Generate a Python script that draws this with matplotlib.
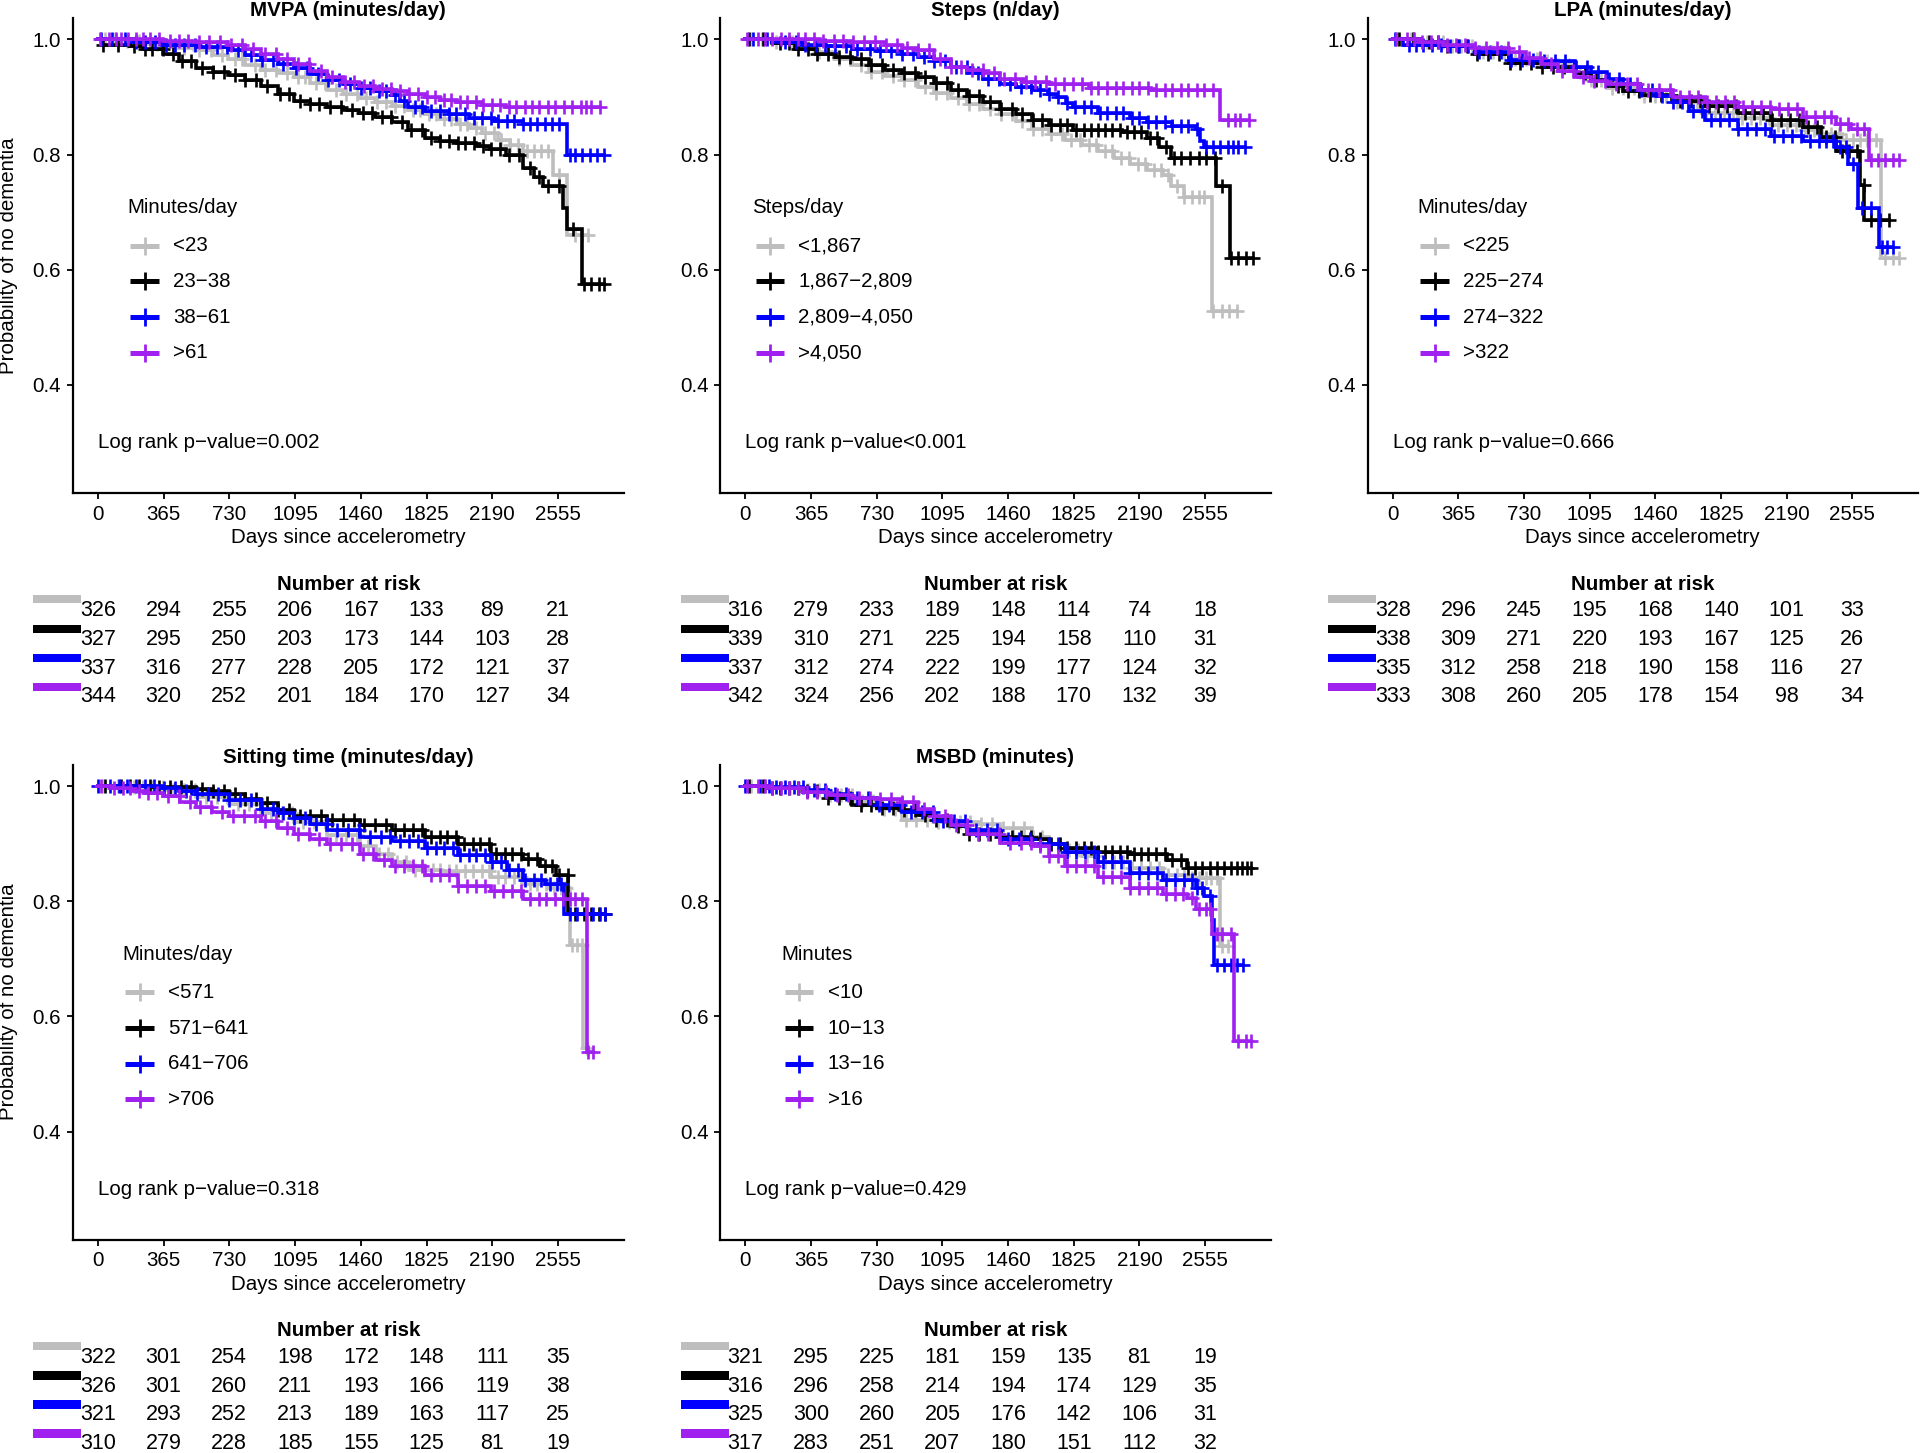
import numpy as np
import matplotlib
matplotlib.use("Agg")
import matplotlib.pyplot as plt
from matplotlib.patches import Rectangle
from matplotlib.transforms import blended_transform_factory

plt.rcParams['font.family'] = ['Liberation Sans', 'DejaVu Sans']

# ---------------- data ----------------
group_colors = ['#BEBEBE', '#000000', '#0000FF', '#A020F0']
xtick_days = [0, 365, 730, 1095, 1460, 1825, 2190, 2555]
ytick_vals = [0.4, 0.6, 0.8, 1.0]

titles = ['MVPA (minutes/day)', 'Steps (n/day)', 'LPA (minutes/day)',
          'Sitting time (minutes/day)', 'MSBD (minutes)']
legend_titles = ['Minutes/day', 'Steps/day', 'Minutes/day', 'Minutes/day', 'Minutes']
group_labels = [
    ['<23', '23\u221238', '38\u221261', '>61'],
    ['<1,867', '1,867\u22122,809', '2,809\u22124,050', '>4,050'],
    ['<225', '225\u2212274', '274\u2212322', '>322'],
    ['<571', '571\u2212641', '641\u2212706', '>706'],
    ['<10', '10\u221213', '13\u221216', '>16'],
]
pvalues = ['Log rank p\u2212value=0.002', 'Log rank p\u2212value<0.001',
           'Log rank p\u2212value=0.666', 'Log rank p\u2212value=0.318',
           'Log rank p\u2212value=0.429']

# ---- MVPA ----
mvpa_t = [
    [0, 120, 250, 363, 450, 544, 640, 725, 815, 907, 1000, 1088, 1180, 1270, 1360, 1451, 1540, 1632, 1720, 1814, 1900, 1995, 2063, 2131, 2222, 2290, 2358, 2528, 2607],
    [0, 23, 180, 249, 363, 450, 544, 640, 725, 815, 907, 1000, 1088, 1180, 1270, 1360, 1451, 1540, 1632, 1720, 1814, 1900, 1995, 2100, 2176, 2267, 2358, 2420, 2471, 2580, 2605, 2686],
    [0, 200, 363, 544, 725, 815, 907, 1000, 1088, 1180, 1270, 1360, 1451, 1540, 1632, 1680, 1723, 1814, 1950, 2063, 2200, 2358, 2607],
    [0, 363, 544, 725, 815, 907, 1000, 1088, 1180, 1270, 1360, 1451, 1540, 1632, 1720, 1814, 1900, 1995, 2130, 2267],
]
mvpa_s = [
    [1.0, 0.997, 0.993, 0.988, 0.985, 0.981, 0.973, 0.966, 0.956, 0.947, 0.941, 0.935, 0.924, 0.913, 0.905, 0.898, 0.891, 0.885, 0.877, 0.870, 0.862, 0.854, 0.846, 0.838, 0.826, 0.817, 0.807, 0.764, 0.661],
    [1.0, 0.991, 0.988, 0.984, 0.975, 0.962, 0.950, 0.944, 0.938, 0.929, 0.919, 0.906, 0.894, 0.888, 0.882, 0.877, 0.873, 0.866, 0.857, 0.843, 0.829, 0.824, 0.820, 0.815, 0.810, 0.800, 0.776, 0.762, 0.745, 0.708, 0.671, 0.575],
    [1.0, 0.995, 0.991, 0.987, 0.981, 0.973, 0.965, 0.958, 0.950, 0.940, 0.929, 0.922, 0.916, 0.910, 0.904, 0.893, 0.882, 0.876, 0.870, 0.863, 0.858, 0.854, 0.800],
    [1.0, 0.998, 0.995, 0.991, 0.984, 0.975, 0.966, 0.957, 0.946, 0.935, 0.927, 0.919, 0.914, 0.910, 0.905, 0.900, 0.895, 0.891, 0.886, 0.882],
]
mvpa_cens = [
    [40, 95, 160, 230, 290, 330, 420, 480, 560, 630, 690, 760, 800, 870, 930, 990, 1050, 1110, 1150, 1210, 1260, 1320, 1380, 1440, 1490, 1550, 1600, 1650, 1700, 1750, 1790, 1840, 1880, 1920, 1960, 2010, 2050, 2100, 2150, 2200, 2240, 2290, 2330, 2380, 2420, 2460, 2500, 2560, 2650, 2690, 2720],
    [30, 110, 200, 260, 300, 360, 420, 470, 520, 580, 640, 700, 760, 820, 880, 940, 1010, 1060, 1120, 1180, 1230, 1290, 1350, 1410, 1470, 1520, 1580, 1630, 1690, 1740, 1800, 1850, 1900, 1950, 2000, 2040, 2090, 2140, 2180, 2230, 2280, 2340, 2400, 2450, 2500, 2560, 2640, 2700, 2740, 2780, 2811],
    [20, 80, 150, 210, 260, 320, 380, 430, 480, 540, 600, 660, 720, 780, 850, 910, 970, 1030, 1100, 1160, 1220, 1280, 1340, 1400, 1460, 1510, 1560, 1600, 1650, 1700, 1760, 1800, 1850, 1900, 1950, 1990, 2040, 2090, 2130, 2180, 2220, 2270, 2310, 2360, 2400, 2440, 2480, 2520, 2560, 2620, 2650, 2690, 2730, 2770, 2811],
    [15, 60, 100, 130, 170, 210, 250, 290, 340, 400, 450, 500, 560, 620, 680, 740, 800, 860, 930, 990, 1050, 1110, 1170, 1240, 1300, 1370, 1420, 1480, 1530, 1580, 1630, 1680, 1730, 1780, 1830, 1870, 1920, 1960, 2010, 2050, 2100, 2140, 2190, 2230, 2280, 2320, 2370, 2410, 2450, 2500, 2540, 2590, 2630, 2680, 2710, 2740, 2788],
]
mvpa_risk = [[326, 294, 255, 206, 167, 133, 89, 21],
             [327, 295, 250, 203, 173, 144, 103, 28],
             [337, 316, 277, 228, 205, 172, 121, 37],
             [344, 320, 252, 201, 184, 170, 127, 34]]

# ---- Steps ----
steps_t = [
    [0, 150, 277, 400, 504, 595, 686, 777, 868, 958, 1049, 1140, 1231, 1322, 1413, 1503, 1594, 1685, 1776, 1870, 1958, 2050, 2139, 2230, 2321, 2366, 2435, 2594],
    [0, 150, 277, 391, 504, 595, 686, 777, 868, 958, 1049, 1140, 1231, 1322, 1413, 1503, 1594, 1685, 1821, 2094, 2230, 2300, 2366, 2616, 2696],
    [0, 150, 322, 450, 595, 730, 868, 958, 1049, 1140, 1231, 1322, 1413, 1503, 1594, 1680, 1730, 1780, 1821, 1958, 2139, 2230, 2370, 2503, 2525, 2548],
    [0, 413, 595, 777, 870, 958, 1049, 1140, 1231, 1322, 1413, 1550, 1685, 1912, 2253, 2639],
]
steps_s = [
    [1.0, 0.995, 0.988, 0.978, 0.966, 0.955, 0.944, 0.937, 0.929, 0.918, 0.907, 0.898, 0.888, 0.879, 0.870, 0.858, 0.845, 0.836, 0.826, 0.817, 0.807, 0.795, 0.783, 0.774, 0.764, 0.745, 0.727, 0.528],
    [1.0, 0.994, 0.984, 0.975, 0.970, 0.966, 0.956, 0.947, 0.941, 0.935, 0.924, 0.913, 0.902, 0.891, 0.880, 0.870, 0.860, 0.851, 0.842, 0.839, 0.829, 0.814, 0.795, 0.745, 0.621],
    [1.0, 0.996, 0.991, 0.988, 0.984, 0.980, 0.975, 0.970, 0.963, 0.952, 0.941, 0.931, 0.922, 0.917, 0.913, 0.906, 0.900, 0.890, 0.882, 0.873, 0.863, 0.857, 0.850, 0.845, 0.823, 0.814],
    [1.0, 0.998, 0.996, 0.991, 0.986, 0.981, 0.966, 0.953, 0.947, 0.941, 0.932, 0.927, 0.922, 0.916, 0.913, 0.860],
]
steps_cens = [
    [30, 90, 170, 260, 350, 410, 460, 520, 580, 640, 700, 760, 820, 880, 940, 1000, 1060, 1120, 1180, 1240, 1300, 1360, 1420, 1480, 1540, 1600, 1650, 1700, 1760, 1810, 1860, 1910, 1950, 2000, 2040, 2090, 2130, 2180, 2220, 2270, 2310, 2350, 2400, 2440, 2480, 2520, 2550, 2600, 2650, 2690, 2730],
    [20, 100, 190, 240, 290, 350, 400, 460, 520, 580, 640, 700, 760, 820, 880, 940, 1000, 1060, 1120, 1180, 1240, 1300, 1360, 1420, 1480, 1540, 1600, 1650, 1700, 1750, 1790, 1840, 1880, 1920, 1960, 2000, 2040, 2080, 2120, 2160, 2200, 2250, 2290, 2340, 2380, 2420, 2470, 2520, 2560, 2610, 2650, 2700, 2740, 2780, 2821],
    [40, 120, 220, 280, 330, 390, 440, 500, 560, 620, 690, 750, 810, 870, 930, 990, 1050, 1110, 1170, 1230, 1290, 1350, 1410, 1470, 1530, 1590, 1640, 1690, 1740, 1790, 1830, 1880, 1920, 1970, 2010, 2060, 2100, 2150, 2190, 2240, 2280, 2330, 2370, 2420, 2460, 2510, 2560, 2600, 2640, 2680, 2710, 2740, 2775],
    [10, 70, 110, 150, 200, 240, 290, 330, 380, 430, 490, 540, 600, 660, 720, 780, 840, 900, 960, 1020, 1080, 1140, 1200, 1260, 1320, 1380, 1440, 1500, 1560, 1610, 1670, 1720, 1770, 1820, 1870, 1920, 1960, 2010, 2060, 2100, 2150, 2190, 2240, 2280, 2330, 2370, 2420, 2460, 2510, 2550, 2600, 2680, 2720, 2750, 2798],
]
steps_risk = [[316, 279, 233, 189, 148, 114, 74, 18],
              [339, 310, 271, 225, 194, 158, 110, 31],
              [337, 312, 274, 222, 199, 177, 124, 32],
              [342, 324, 256, 202, 188, 170, 132, 39]]

# ---- LPA ----
lpa_t = [
    [0, 150, 284, 460, 647, 829, 920, 1011, 1100, 1192, 1374, 1556, 1737, 1919, 2101, 2283, 2373, 2500, 2714],
    [0, 150, 284, 460, 647, 829, 1011, 1100, 1192, 1280, 1374, 1556, 1737, 1919, 2101, 2283, 2380, 2464, 2601, 2623],
    [0, 57, 284, 460, 647, 829, 1011, 1100, 1192, 1280, 1374, 1465, 1556, 1650, 1737, 1919, 2101, 2283, 2464, 2532, 2589, 2703],
    [0, 150, 284, 460, 647, 740, 829, 920, 1011, 1100, 1192, 1374, 1556, 1737, 1919, 2101, 2283, 2464, 2550, 2646],
]
lpa_s = [
    [1.0, 0.995, 0.988, 0.978, 0.966, 0.963, 0.955, 0.944, 0.930, 0.916, 0.901, 0.891, 0.873, 0.863, 0.851, 0.842, 0.835, 0.826, 0.621],
    [1.0, 0.995, 0.988, 0.975, 0.960, 0.953, 0.941, 0.930, 0.919, 0.911, 0.904, 0.894, 0.885, 0.873, 0.860, 0.848, 0.830, 0.807, 0.748, 0.686],
    [1.0, 0.991, 0.988, 0.978, 0.965, 0.962, 0.953, 0.943, 0.932, 0.922, 0.913, 0.902, 0.891, 0.875, 0.860, 0.845, 0.832, 0.823, 0.814, 0.783, 0.708, 0.640],
    [1.0, 0.996, 0.991, 0.985, 0.978, 0.967, 0.957, 0.946, 0.935, 0.928, 0.922, 0.913, 0.900, 0.891, 0.882, 0.879, 0.866, 0.854, 0.845, 0.790],
]
lpa_cens = [
    [25, 100, 190, 280, 330, 380, 440, 500, 560, 620, 680, 740, 800, 860, 920, 980, 1040, 1100, 1160, 1220, 1280, 1340, 1400, 1460, 1520, 1580, 1640, 1690, 1740, 1790, 1840, 1890, 1940, 1990, 2040, 2090, 2140, 2190, 2240, 2290, 2340, 2390, 2440, 2480, 2520, 2560, 2600, 2640, 2690, 2740, 2780, 2816],
    [35, 110, 200, 250, 300, 360, 410, 470, 530, 590, 650, 710, 770, 830, 890, 950, 1010, 1070, 1130, 1190, 1250, 1310, 1370, 1430, 1490, 1550, 1600, 1660, 1710, 1760, 1810, 1860, 1910, 1960, 2010, 2060, 2110, 2160, 2210, 2260, 2310, 2360, 2410, 2460, 2500, 2540, 2580, 2620, 2660, 2710, 2760],
    [15, 90, 130, 170, 220, 270, 320, 370, 420, 480, 540, 600, 660, 720, 780, 840, 900, 960, 1020, 1080, 1140, 1200, 1260, 1320, 1380, 1440, 1500, 1560, 1610, 1670, 1720, 1770, 1820, 1870, 1920, 1970, 2020, 2070, 2120, 2170, 2220, 2270, 2320, 2370, 2410, 2450, 2490, 2520, 2560, 2610, 2660, 2720, 2750, 2782],
    [20, 80, 120, 160, 210, 250, 300, 350, 400, 460, 520, 580, 640, 700, 760, 820, 880, 940, 1000, 1060, 1120, 1180, 1240, 1300, 1360, 1420, 1480, 1540, 1600, 1650, 1700, 1750, 1800, 1850, 1900, 1950, 2000, 2050, 2100, 2150, 2200, 2250, 2300, 2350, 2400, 2440, 2490, 2530, 2580, 2620, 2660, 2700, 2740, 2780, 2816],
]
lpa_risk = [[328, 296, 245, 195, 168, 140, 101, 33],
            [338, 309, 271, 220, 193, 167, 125, 26],
            [335, 312, 258, 218, 190, 158, 116, 27],
            [333, 308, 260, 205, 178, 154, 98, 34]]

# ---- Sitting time ----
sit_t = [
    [0, 180, 363, 545, 727, 908, 1090, 1272, 1454, 1545, 1635, 1726, 1908, 2180, 2362, 2500, 2623, 2691],
    [0, 300, 545, 640, 727, 820, 908, 1000, 1090, 1272, 1454, 1635, 1817, 1999, 2180, 2362, 2453, 2544, 2612],
    [0, 363, 450, 545, 727, 908, 1000, 1090, 1180, 1272, 1454, 1635, 1817, 1999, 2180, 2271, 2362, 2480, 2589],
    [0, 90, 182, 270, 363, 455, 545, 636, 727, 908, 1000, 1090, 1180, 1272, 1454, 1545, 1635, 1817, 1999, 2180, 2362, 2714],
]
sit_s = [
    [1.0, 0.998, 0.994, 0.982, 0.969, 0.953, 0.938, 0.916, 0.896, 0.882, 0.868, 0.855, 0.852, 0.843, 0.830, 0.824, 0.725, 0.545],
    [1.0, 0.998, 0.995, 0.991, 0.986, 0.978, 0.970, 0.958, 0.948, 0.942, 0.933, 0.924, 0.911, 0.899, 0.883, 0.874, 0.861, 0.846, 0.778],
    [1.0, 0.996, 0.991, 0.986, 0.976, 0.961, 0.953, 0.945, 0.935, 0.924, 0.911, 0.905, 0.893, 0.880, 0.868, 0.855, 0.837, 0.830, 0.778],
    [1.0, 0.996, 0.992, 0.988, 0.983, 0.973, 0.964, 0.956, 0.948, 0.939, 0.928, 0.917, 0.908, 0.899, 0.883, 0.872, 0.861, 0.846, 0.827, 0.818, 0.804, 0.538],
]
sit_cens = [
    [30, 110, 200, 250, 300, 360, 420, 480, 540, 600, 660, 720, 780, 840, 900, 960, 1020, 1080, 1140, 1200, 1260, 1320, 1380, 1440, 1500, 1560, 1610, 1660, 1710, 1760, 1810, 1860, 1900, 1950, 1990, 2040, 2080, 2130, 2170, 2220, 2260, 2310, 2350, 2400, 2440, 2490, 2530, 2570, 2600, 2630, 2660, 2690, 2714],
    [40, 130, 180, 230, 290, 340, 400, 460, 520, 580, 640, 700, 760, 820, 880, 940, 1000, 1060, 1120, 1180, 1240, 1300, 1360, 1420, 1480, 1540, 1600, 1650, 1700, 1750, 1800, 1850, 1900, 1940, 1990, 2030, 2080, 2120, 2170, 2210, 2260, 2300, 2350, 2390, 2440, 2480, 2520, 2560, 2610, 2650, 2700, 2740, 2780, 2816],
    [0, 70, 120, 160, 210, 260, 310, 370, 430, 490, 550, 610, 670, 730, 790, 850, 910, 970, 1030, 1090, 1150, 1210, 1270, 1330, 1390, 1450, 1510, 1570, 1620, 1680, 1730, 1780, 1830, 1880, 1920, 1970, 2010, 2060, 2100, 2150, 2190, 2240, 2280, 2330, 2370, 2420, 2460, 2510, 2550, 2570, 2620, 2660, 2710, 2750, 2790, 2816],
    [20, 90, 140, 180, 230, 280, 330, 390, 450, 510, 570, 630, 690, 750, 810, 870, 930, 990, 1050, 1110, 1170, 1230, 1290, 1350, 1410, 1470, 1530, 1590, 1650, 1700, 1750, 1800, 1850, 1900, 1950, 2000, 2050, 2100, 2150, 2200, 2250, 2300, 2350, 2400, 2450, 2490, 2540, 2580, 2620, 2650, 2690, 2720, 2748],
]
sit_risk = [[322, 301, 254, 198, 172, 148, 111, 35],
            [326, 301, 260, 211, 193, 166, 119, 38],
            [321, 293, 252, 213, 189, 163, 117, 25],
            [310, 279, 228, 185, 155, 125, 81, 19]]

# ---- MSBD ----
msbd_t = [
    [0, 150, 322, 460, 595, 730, 868, 1049, 1300, 1413, 1594, 1690, 1776, 1870, 1958, 2139, 2321, 2457, 2639],
    [0, 150, 322, 460, 595, 730, 868, 960, 1049, 1140, 1231, 1413, 1594, 1690, 1776, 1958, 2139, 2344, 2457],
    [0, 150, 322, 460, 595, 730, 868, 1049, 1231, 1413, 1594, 1776, 1958, 2139, 2321, 2503, 2548, 2594, 2605],
    [0, 150, 322, 460, 595, 730, 868, 960, 1049, 1140, 1231, 1413, 1594, 1690, 1776, 1958, 2139, 2321, 2457, 2503, 2594, 2718],
]
msbd_s = [
    [1.0, 0.997, 0.993, 0.985, 0.975, 0.960, 0.942, 0.938, 0.934, 0.928, 0.911, 0.900, 0.889, 0.878, 0.868, 0.858, 0.846, 0.840, 0.722],
    [1.0, 0.997, 0.992, 0.980, 0.967, 0.962, 0.958, 0.950, 0.942, 0.930, 0.917, 0.911, 0.908, 0.900, 0.893, 0.886, 0.883, 0.871, 0.858],
    [1.0, 0.998, 0.993, 0.987, 0.980, 0.968, 0.955, 0.940, 0.924, 0.908, 0.899, 0.886, 0.868, 0.849, 0.837, 0.824, 0.809, 0.768, 0.690],
    [1.0, 0.997, 0.990, 0.985, 0.980, 0.977, 0.973, 0.960, 0.948, 0.932, 0.917, 0.902, 0.896, 0.878, 0.861, 0.843, 0.824, 0.812, 0.806, 0.787, 0.743, 0.557],
]
msbd_cens = [
    [30, 110, 200, 250, 300, 350, 410, 470, 530, 590, 650, 710, 770, 830, 890, 950, 1010, 1070, 1130, 1190, 1250, 1310, 1370, 1430, 1490, 1550, 1600, 1650, 1700, 1750, 1800, 1850, 1900, 1950, 2000, 2050, 2100, 2150, 2200, 2250, 2300, 2350, 2400, 2440, 2480, 2520, 2560, 2590, 2620, 2650, 2684],
    [20, 100, 150, 190, 240, 290, 340, 400, 460, 520, 580, 640, 700, 760, 820, 880, 940, 1000, 1060, 1120, 1180, 1240, 1300, 1360, 1420, 1480, 1530, 1590, 1640, 1700, 1750, 1790, 1840, 1880, 1920, 1960, 2000, 2040, 2080, 2120, 2160, 2200, 2240, 2280, 2330, 2370, 2420, 2460, 2500, 2540, 2580, 2620, 2660, 2700, 2730, 2760, 2790, 2809],
    [0, 80, 130, 170, 220, 270, 320, 380, 440, 500, 560, 620, 680, 740, 800, 860, 920, 980, 1040, 1100, 1160, 1220, 1280, 1340, 1400, 1460, 1520, 1580, 1640, 1690, 1740, 1790, 1840, 1890, 1940, 1990, 2040, 2090, 2140, 2190, 2240, 2290, 2340, 2390, 2440, 2480, 2510, 2540, 2580, 2620, 2660, 2700, 2730, 2764],
    [10, 70, 110, 150, 200, 240, 290, 340, 400, 450, 510, 570, 630, 690, 750, 810, 870, 930, 990, 1050, 1110, 1170, 1230, 1290, 1350, 1410, 1470, 1530, 1590, 1640, 1690, 1740, 1790, 1840, 1890, 1940, 1990, 2040, 2090, 2140, 2190, 2240, 2290, 2340, 2390, 2430, 2480, 2520, 2560, 2580, 2620, 2650, 2700, 2740, 2780, 2809],
]
msbd_risk = [[321, 295, 225, 181, 159, 135, 81, 19],
             [316, 296, 258, 214, 194, 174, 129, 35],
             [325, 300, 260, 205, 176, 142, 106, 31],
             [317, 283, 251, 207, 180, 151, 112, 32]]

panel_times = [mvpa_t, steps_t, lpa_t, sit_t, msbd_t]
panel_survs = [mvpa_s, steps_s, lpa_s, sit_s, msbd_s]
panel_cens = [mvpa_cens, steps_cens, lpa_cens, sit_cens, msbd_cens]
panel_risk = [mvpa_risk, steps_risk, lpa_risk, sit_risk, msbd_risk]

# ---------------- layout (pixels) ----------------
W, H = 1920, 1453
fig = plt.figure(figsize=(W / 100, H / 100), dpi=100)

col_left = [72.7, 720.4, 1367.8]
col_width = [551.0, 550.2, 549.8]
row_top = [17.9, 764.6]
row_off = [0.0, 746.7]
ax_h = 475.0
XLIM = (-139, 2919)
YLIM = (0.2125, 1.0375)

# legend horizontal placement (days): title, key start, key end, label
legend_x = [(165, 181, 340, 420), (39, 61, 213, 295), (136, 154, 313, 393),
            (136, 154, 313, 391), (198, 220, 375, 459)]
legend_title_y = 0.708
legend_item_y = [0.642, 0.580, 0.518, 0.456]

FS = 14.8
positions = [(0, 0), (0, 1), (0, 2), (1, 0), (1, 1)]

for p, (r, c) in enumerate(positions):
    left, width = col_left[c], col_width[c]
    top = row_top[r]
    ax = fig.add_axes([left / W, 1 - (top + ax_h) / H, width / W, ax_h / H])
    ax.set_xlim(*XLIM)
    ax.set_ylim(*YLIM)
    for sp in ['top', 'right']:
        ax.spines[sp].set_visible(False)
    for sp in ['left', 'bottom']:
        ax.spines[sp].set_linewidth(1.6)
        ax.spines[sp].set_color('black')
    ax.set_xticks(xtick_days)
    ax.set_xticklabels([str(v) for v in xtick_days])
    ax.set_yticks(ytick_vals)
    ax.set_yticklabels(['%.1f' % v for v in ytick_vals])
    ax.tick_params(axis='both', direction='out', length=4, width=1.3,
                   labelsize=FS, colors='black', pad=4.5)
    ax.patch.set_visible(False)

    # curves
    for g in range(4):
        t = np.array(panel_times[p][g], dtype=float)
        s = np.array(panel_survs[p][g], dtype=float)
        cens = np.array(panel_cens[p][g], dtype=float)
        t_end = max(cens.max(), t.max())
        xs = np.append(t, t_end)
        ys = np.append(s, s[-1])
        col = group_colors[g]
        ax.step(xs, ys, where='post', color=col, lw=2.6, zorder=2 + g,
                solid_joinstyle='miter')
        idx = np.searchsorted(t, cens, side='right') - 1
        ax.plot(cens, s[idx], ls='none', marker='+', ms=10, mew=1.9,
                color=col, zorder=2 + g)

    # legend
    tx, k0, k1, lx = legend_x[p]
    ax.text(tx, legend_title_y, legend_titles[p], fontsize=FS, ha='left',
            va='center')
    for g in range(4):
        yv = legend_item_y[g]
        col = group_colors[g]
        ax.plot([k0, k1], [yv, yv], color=col, lw=3.6, solid_capstyle='butt')
        ax.plot([(k0 + k1) / 2], [yv], ls='none', marker='+', ms=13, mew=2.0,
                color=col)
        ax.text(lx, yv, group_labels[p][g], fontsize=FS, ha='left', va='center')

    # p-value
    ax.text(0, 0.30, pvalues[p], fontsize=FS, ha='left', va='center')

    # title
    cx = (left + width / 2) / W
    fig.text(cx, 1 - (16 + row_off[r]) / H, titles[p], fontsize=FS,
             fontweight='bold', ha='center', va='baseline')
    # x label
    fig.text(cx, 1 - (537.5 + row_off[r]) / H, 'Days since accelerometry',
             fontsize=FS, ha='center', va='center')
    # y label
    if c == 0:
        fig.text(9 / W, 1 - (top + ax_h / 2) / H, 'Probability of no dementia',
                 fontsize=FS, rotation=90, ha='center', va='center')

    # risk table
    fig.text(cx, 1 - (584 + row_off[r]) / H, 'Number at risk', fontsize=FS,
             fontweight='bold', ha='center', va='center')
    trans = blended_transform_factory(ax.transData, fig.transFigure)
    tick0_px = left + (0 - XLIM[0]) / (XLIM[1] - XLIM[0]) * width
    num_rows = [610.7, 639.3, 668.3, 696.7]
    bar_rows = [599.3, 628.7, 657.8, 686.7]
    for g in range(4):
        yrow = num_rows[g] + row_off[r]
        for k, d in enumerate(xtick_days):
            fig.text(d, 1 - yrow / H, str(panel_risk[p][g][k]), fontsize=15.5,
                     ha='center', va='center', transform=trans)
        yb = bar_rows[g] + row_off[r]
        bh = 8.3
        fig.add_artist(Rectangle(((tick0_px - 64.5) / W, 1 - (yb + bh / 2) / H),
                                 48.0 / W, bh / H, transform=fig.transFigure,
                                 facecolor=group_colors[g], edgecolor='none'))

fig.savefig('out.png', dpi=100)
